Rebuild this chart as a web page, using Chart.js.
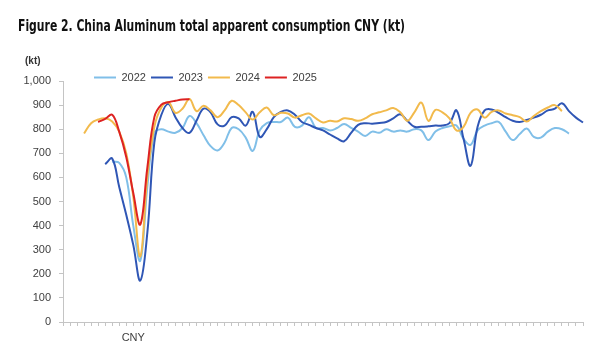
<!DOCTYPE html>
<html><head><meta charset="utf-8">
<script src="https://cdn.jsdelivr.net/npm/chart.js@4.4.1/dist/chart.umd.min.js"></script>
<style>html,body{margin:0;padding:0;background:#fff}#wrap{width:612px;height:355px;position:relative}</style>
</head><body><div id="wrap"><canvas id="c" width="612" height="355"></canvas></div>
<script>
// x categories (weekly, aligned on Chinese New Year)
const weeks = [
  '', '', '', '', '', '', '', '', '', '', 'CNY', '', '', '', '', '', '', '', '', '',
  '', '', '', '', '', '', '', '', '', '', '', '', '', '', '', '', '', '', '', '',
  '', '', '', '', '', '', '', '', '', '', '', '', '', '', '', '', '', '', '', '',
  '', '', '', '', '', '', '', '', '', '', '', '', '', '', ''
];
const seriesNames = ['2022', '2023', '2024', '2025'];
const v2022 = [
  null, null, null, null, null, null, null, 665, 660, 600, 400, 255, 560, 785, 800, 790, 785, 805, 855, 825,
  775, 730, 712, 745, 805, 800, 765, 710, 795, 825, 830, 830, 848, 810, 815, 850, 805, 805, 795, 805,
  822, 805, 790, 772, 790, 785, 800, 790, 795, 790, 800, 795, 755, 790, 805, 812, 815, 760, 735, 795,
  815, 825, 830, 790, 755, 780, 803, 768, 765, 790, 805, 800, 782, null, null
];
const v2023 = [
  null, null, null, null, null, null, 655, 678, 560, 445, 320, 172, 370, 745, 860, 905, 850, 805, 785, 835,
  885, 870, 820, 815, 850, 845, 815, 872, 768, 800, 850, 872, 878, 860, 830, 818, 805, 795, 778, 762,
  750, 785, 818, 825, 823, 826, 830, 845, 862, 835, 810, 810, 812, 815, 815, 825, 878, 760, 648, 810,
  878, 882, 868, 850, 835, 830, 838, 848, 860, 878, 885, 908, 875, 848, 828
];
const v2024 = [
  null, null, null, 782, 825, 840, 845, 832, 790, 700, 520, 272, 600, 810, 890, 912, 868, 885, 925, 875,
  897, 878, 850, 878, 918, 900, 870, 840, 870, 890, 858, 868, 865, 848, 858, 865, 845, 828, 835, 832,
  845, 842, 835, 845, 862, 870, 878, 888, 870, 835, 870, 910, 835, 880, 870, 845, 795, 810, 868, 882,
  848, 872, 878, 865, 858, 850, 832, 855, 875, 890, 900, 875, null, null, null
];
const v2025 = [
  null, null, null, null, null, 830, 843, 860, 790, 685, 535, 405, 640, 850, 902, 912, 918, 923, 924, null,
  null, null, null, null, null, null, null, null, null, null, null, null, null, null, null, null, null, null, null, null,
  null, null, null, null, null, null, null, null, null, null, null, null, null, null, null, null, null, null, null, null,
  null, null, null, null, null, null, null, null, null, null, null, null, null, null, null
];
const seriesValues = [v2022, v2023, v2024, v2025];
const seriesColors = ['#80BFE8', '#2F56B5', '#F2BA4C', '#DD2222'];
const drawOrder = [3, 2, 1, 0];
const yTickStep = 100;

const axisGray = '#c4c4c4';
const textGray = '#404040';
const sans = "'Liberation Sans', Arial, sans-serif";
const titleFamily = "'DejaVu Sans Condensed','Liberation Sans Narrow'," + sans;
const titleTargetWidth = 387;

const placeBoxes = {
  id: 'placeBoxes',
  afterLayout(chart) {
    const lg = chart.legend;
    if (lg) { const w = lg.right - lg.left; lg.left = 94 - 5; lg.right = lg.left + w; }
    chart.boxes.forEach(b => {
      if (b !== chart.titleBlock && b.options && b.options.text === '(kt)') {
        const w = b.right - b.left; b.left = 25; b.right = 25 + w;
      }
    });
    const tb = chart.titleBlock;
    if (tb && !tb.__condensed) {
      tb.__condensed = true;
      const origDraw = tb.draw;
      tb.draw = function (...args) {
        const ctx = this.ctx;
        const f = Chart.helpers.toFont(this.options.font);
        ctx.save();
        ctx.font = f.string;
        const w = ctx.measureText(this.options.text).width;
        ctx.restore();
        const sx = Math.min(1, titleTargetWidth / w);
        const x0 = this.left;
        ctx.save();
        ctx.translate(x0, 0); ctx.scale(sx, 1); ctx.translate(-x0, 0);
        origDraw.apply(this, args);
        ctx.restore();
      };
    }
  }
};

new Chart(document.getElementById('c'), {
  type: 'line',
  data: {
    labels: weeks,
    datasets: seriesNames.map((name, i) => ({
      label: name,
      data: seriesValues[i],
      borderColor: seriesColors[i],
      backgroundColor: seriesColors[i],
      borderWidth: 2,
      pointRadius: 0,
      pointHoverRadius: 0,
      tension: 0.4,
      fill: false,
      order: drawOrder[i]
    }))
  },
  plugins: [placeBoxes],
  options: {
    responsive: false,
    animation: false,
    layout: { padding: { left: 18, right: 29, top: 0, bottom: 0 } },
    plugins: {
      title: {
        display: true,
        text: 'Figure 2. China Aluminum total apparent consumption CNY (kt)',
        align: 'start',
        color: '#111111',
        font: { family: titleFamily, size: 16.5, weight: 'bold' },
        padding: { top: 17, bottom: 0 }
      },
      subtitle: {
        display: true,
        text: '(kt)',
        align: 'start',
        color: '#333333',
        font: { family: sans, size: 10, weight: 'bold' },
        padding: { top: 18.2, bottom: 0 }
      },
      legend: {
        display: true,
        position: 'top',
        align: 'start',
        maxHeight: 14,
        labels: {
          usePointStyle: true,
          pointStyle: 'line',
          pointStyleWidth: 22,
          padding: 5,
          color: textGray,
          font: { family: sans, size: 11 },
          sort: (a, b) => a.datasetIndex - b.datasetIndex
        }
      },
      tooltip: { enabled: false }
    },
    scales: {
      x: {
        type: 'category',
        offset: false,
        afterFit(s) { s.height = 33; },
        grid: { display: true, drawOnChartArea: false, drawTicks: true, tickLength: 4, color: axisGray, offset: false },
        border: { display: true, color: axisGray, width: 1 },
        ticks: { autoSkip: false, maxRotation: 0, minRotation: 0, padding: 5, color: textGray, font: { family: sans, size: 11 } }
      },
      y: {
        min: 0,
        max: 1000,
        afterFit(s) { s.width = 45; },
        grid: { display: true, drawOnChartArea: false, drawTicks: true, tickLength: 4, color: axisGray },
        border: { display: true, color: axisGray, width: 1 },
        ticks: { stepSize: yTickStep, padding: 8, color: textGray, font: { family: sans, size: 11 } }
      }
    }
  }
});
</script>
</body></html>
